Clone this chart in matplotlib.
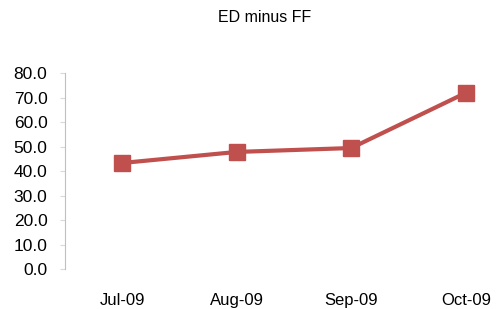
import matplotlib.pyplot as plt

plt.rcParams['font.family'] = ['Liberation Sans', 'DejaVu Sans']

months = ['Jul-09', 'Aug-09', 'Sep-09', 'Oct-09']
spread = [43.4, 47.9, 49.5, 72.0]
yticks = [0, 10, 20, 30, 40, 50, 60, 70, 80]

fig = plt.figure(figsize=(4.97, 3.09), dpi=100)
ax = fig.add_axes([65 / 497, 1 - 269.3 / 309, 458 / 497, 196 / 309])

ax.plot(range(len(months)), spread, color='#C0504D', linewidth=3,
        marker='s', markersize=11.5, clip_on=False)

ax.set_xlim(-0.5, 3.5)
ax.set_ylim(0, 80)
ax.set_yticks(yticks)
ax.set_yticklabels([f'{v:.1f}' for v in yticks], fontsize=12.5)
ax.set_xticks(range(len(months)))
ax.set_xticklabels(months, fontsize=12)

for s in ['top', 'right', 'bottom']:
    ax.spines[s].set_visible(False)
ax.spines['left'].set_color('#BFBFBF')
ax.tick_params(axis='y', color='#D9D9D9', length=3.6, pad=9)
ax.tick_params(axis='x', length=0, pad=17)

fig.text(265 / 497, 1 - 17 / 309, 'ED minus FF', ha='center', va='center', fontsize=11.5)

fig.savefig('out.png', dpi=100)
